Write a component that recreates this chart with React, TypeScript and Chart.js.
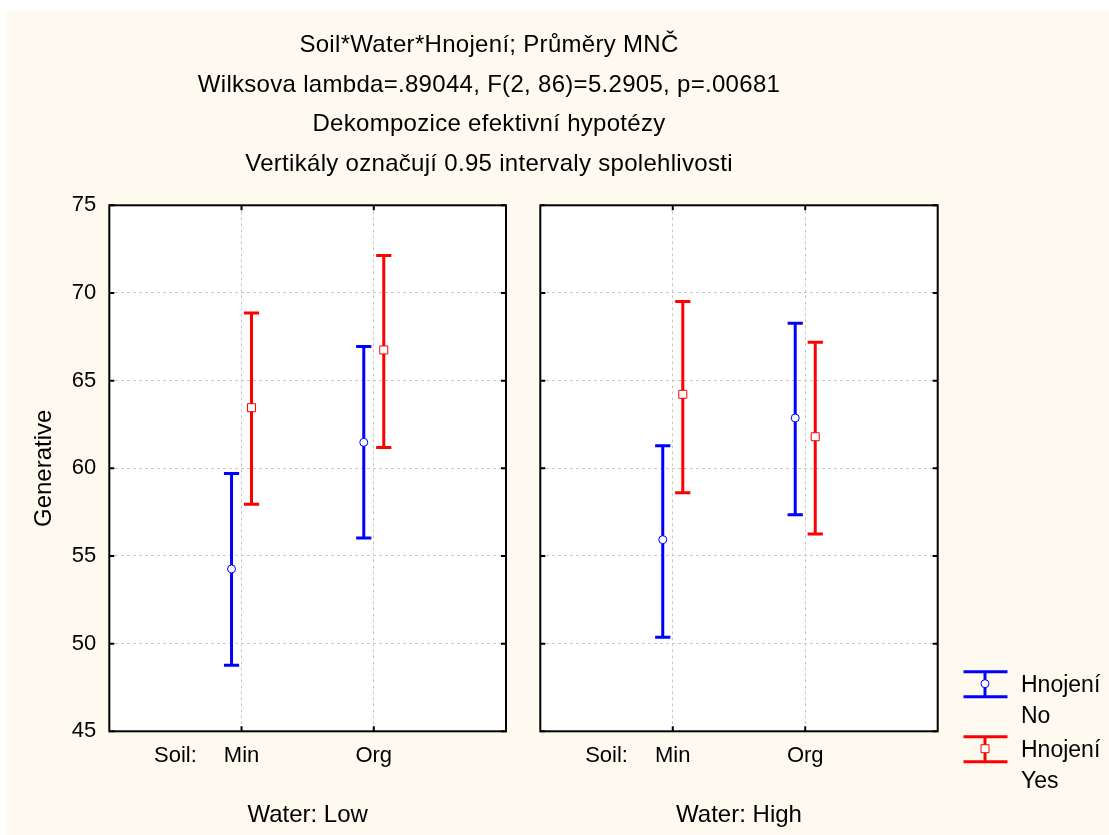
import { useEffect, useRef } from 'react';
import { Chart, registerables } from 'chart.js';

Chart.register(...registerables);

const FONT = "'Liberation Sans', Arial, Helvetica, sans-serif";
const CREAM = '#fefaf0';
const BLUE = '#0000ff';
const RED = '#ff0000';
const GRID = '#c8c8c8';

// Text
const titleLines = [
  'Soil*Water*Hnojení; Průměry MNČ',
  'Wilksova lambda=.89044, F(2, 86)=5.2905, p=.00681',
  'Dekompozice efektivní hypotézy',
  'Vertikály označují 0.95 intervaly spolehlivosti',
];
const yAxisTitle = 'Generative';
const soilAxisLabel = 'Soil:';
const soilLevels = ['Min', 'Org'];
const waterTitles = ['Water: Low', 'Water: High'];
const legendNo = ['Hnojení', 'No'];
const legendYes = ['Hnojení', 'Yes'];
const yMin = 45;
const yMax = 75;
const yStep = 5;

// Water: Low — means and 0.95 confidence limits per soil level (Min, Org)
const lowNoMean = [54.26, 61.48];
const lowNoLower = [48.76, 56.02];
const lowNoUpper = [59.71, 66.94];
const lowYesMean = [63.46, 66.75];
const lowYesLower = [57.95, 61.18];
const lowYesUpper = [68.86, 72.13];

// Water: High
const highNoMean = [55.93, 62.87];
const highNoLower = [50.36, 57.35];
const highNoUpper = [61.29, 68.27];
const highYesMean = [64.22, 61.8];
const highYesLower = [58.61, 56.25];
const highYesUpper = [69.52, 67.19];

// dodge of each group around its category, and half-width of the caps (x units)
const DODGE = 0.0756;
const CAP = 0.0575;

type Pt = { x: number; y: number | null };

function whiskers(lower: number[], upper: number[], shift: number): Pt[] {
  const pts: Pt[] = [];
  lower.forEach((lo, i) => {
    const hi = upper[i];
    const x = i + 1 + shift;
    pts.push({ x, y: lo }, { x, y: hi }, { x, y: null });
    pts.push({ x: x - CAP, y: hi }, { x: x + CAP, y: hi }, { x, y: null });
    pts.push({ x: x - CAP, y: lo }, { x: x + CAP, y: lo }, { x, y: null });
  });
  return pts;
}

function means(values: number[], shift: number): Pt[] {
  return values.map((v, i) => ({ x: i + 1 + shift, y: v }));
}

const panelPlugin = {
  id: 'panelFrame',
  beforeDraw(chart: any) {
    const { ctx, chartArea: a } = chart;
    ctx.save();
    ctx.fillStyle = '#ffffff';
    ctx.fillRect(a.left, a.top, a.right - a.left, a.bottom - a.top);
    ctx.restore();
  },
  afterDatasetsDraw(chart: any) {
    const { ctx, chartArea: a, scales } = chart;
    ctx.save();
    ctx.strokeStyle = '#000';
    ctx.lineWidth = 2;
    ctx.strokeRect(a.left, a.top, a.right - a.left, a.bottom - a.top);
    ctx.beginPath();
    scales.y.ticks.forEach((t: any) => {
      const y = scales.y.getPixelForValue(t.value);
      ctx.moveTo(a.left, y);
      ctx.lineTo(a.left + 5, y);
      ctx.moveTo(a.right, y);
      ctx.lineTo(a.right - 5, y);
    });
    soilLevels.forEach((_, i) => {
      const x = scales.x.getPixelForValue(i + 1);
      ctx.moveTo(x, a.top);
      ctx.lineTo(x, a.top + 5);
      ctx.moveTo(x, a.bottom);
      ctx.lineTo(x, a.bottom - 5);
    });
    ctx.stroke();
    ctx.restore();
  },
};

const headingPlugin = {
  id: 'heading',
  afterDraw(chart: any) {
    const { ctx } = chart;
    ctx.save();
    ctx.fillStyle = '#000';
    ctx.font = `24px ${FONT}`;
    ctx.textAlign = 'center';
    ctx.textBaseline = 'middle';
    (ctx as any).letterSpacing = '0.3px';
    titleLines.forEach((line, i) => ctx.fillText(line, 489, 45.5 + i * 39.65));
    ctx.restore();
  },
};

function drawLegendItem(ctx: CanvasRenderingContext2D, top: number, color: string, square: boolean, lines: string[]) {
  const left = 963.5;
  const right = 1007.5;
  const cx = 985;
  const bottom = top + 25;
  ctx.strokeStyle = color;
  ctx.lineWidth = 3;
  ctx.beginPath();
  ctx.moveTo(left, top);
  ctx.lineTo(right, top);
  ctx.moveTo(left, bottom);
  ctx.lineTo(right, bottom);
  ctx.moveTo(cx, top);
  ctx.lineTo(cx, bottom);
  ctx.stroke();
  ctx.lineWidth = 1;
  ctx.fillStyle = '#fff';
  const my = top + 12;
  ctx.beginPath();
  if (square) ctx.rect(cx - 4, my - 4, 8, 8);
  else ctx.arc(cx, my, 4, 0, Math.PI * 2);
  ctx.fill();
  ctx.stroke();
  ctx.fillStyle = '#000';
  ctx.font = `23px ${FONT}`;
  ctx.textAlign = 'left';
  ctx.textBaseline = 'middle';
  ctx.fillText(lines[0], 1021, top + 13.5);
  ctx.fillText(lines[1], 1021, top + 45);
}

const legendPlugin = {
  id: 'groupLegend',
  afterDraw(chart: any) {
    const { ctx } = chart;
    ctx.save();
    drawLegendItem(ctx, 671.7, BLUE, false, legendNo);
    drawLegendItem(ctx, 736.7, RED, true, legendYes);
    ctx.restore();
  },
};

function panelConfig(p: {
  noMean: number[]; noLower: number[]; noUpper: number[];
  yesMean: number[]; yesLower: number[]; yesUpper: number[];
  water: string; showY: boolean; padLeft: number; padRight: number; yWidth: number; plugins: any[];
}): any {
  return {
    type: 'scatter',
    data: {
      datasets: [
        { data: whiskers(p.noLower, p.noUpper, -DODGE), showLine: true, borderColor: BLUE, borderWidth: 3, pointRadius: 0, order: 2 },
        { data: whiskers(p.yesLower, p.yesUpper, DODGE), showLine: true, borderColor: RED, borderWidth: 3, pointRadius: 0, order: 2 },
        { data: means(p.noMean, -DODGE), pointStyle: 'circle', pointRadius: 4, pointBorderWidth: 1, borderColor: BLUE, backgroundColor: '#fff', order: 1 },
        { data: means(p.yesMean, DODGE), pointStyle: 'rect', pointRadius: 5.66, pointBorderWidth: 1, borderColor: RED, backgroundColor: '#fff', order: 1 },
      ],
    },
    options: {
      responsive: false,
      animation: false,
      events: [],
      layout: { padding: { left: p.padLeft, right: p.padRight, top: 205.3, bottom: 0 } },
      plugins: { legend: { display: false }, tooltip: { enabled: false }, title: { display: false } },
      scales: {
        x: {
          type: 'linear',
          min: 0,
          max: 3,
          afterBuildTicks: (s: any) => {
            s.ticks = [{ value: 0.5 }, ...soilLevels.map((_, i) => ({ value: i + 1 }))];
          },
          afterFit: (s: any) => { s.height = 103.7; },
          ticks: {
            autoSkip: false,
            maxRotation: 0,
            padding: 11,
            color: '#000',
            font: { family: FONT, size: 22 },
            callback: (v: number) => (v === 0.5 ? soilAxisLabel : soilLevels[v - 1]),
          },
          grid: {
            drawTicks: false,
            lineWidth: 1,
            color: (c: any) => (c.tick && c.tick.value === 0.5 ? 'rgba(0,0,0,0)' : GRID),
          },
          border: { display: false, dash: [3, 3] },
          title: { display: true, text: p.water, color: '#000', font: { family: FONT, size: 24 }, padding: { top: 0, bottom: 5.6 } },
        },
        y: {
          type: 'linear',
          min: yMin,
          max: yMax,
          afterFit: (s: any) => { s.width = p.yWidth; },
          ticks: { stepSize: yStep, display: p.showY, padding: 13, color: '#000', font: { family: FONT, size: 22 } },
          grid: { drawTicks: false, lineWidth: 1, color: GRID },
          border: { display: false, dash: [3, 3] },
          title: { display: p.showY, text: yAxisTitle, color: '#000', font: { family: FONT, size: 24 }, padding: { top: 29.6, bottom: 0 } },
        },
      },
    },
    plugins: p.plugins,
  };
}

export default function App() {
  const leftRef = useRef<HTMLCanvasElement>(null);
  const rightRef = useRef<HTMLCanvasElement>(null);

  useEffect(() => {
    const low = new Chart(leftRef.current as HTMLCanvasElement, panelConfig({
      noMean: lowNoMean, noLower: lowNoLower, noUpper: lowNoUpper,
      yesMean: lowYesMean, yesLower: lowYesLower, yesUpper: lowYesUpper,
      water: waterTitles[0], showY: true, padLeft: 0, padRight: 603, yWidth: 109.3,
      plugins: [panelPlugin, headingPlugin],
    }));
    const high = new Chart(rightRef.current as HTMLCanvasElement, panelConfig({
      noMean: highNoMean, noLower: highNoLower, noUpper: highNoUpper,
      yesMean: highYesMean, yesLower: highYesLower, yesUpper: highYesUpper,
      water: waterTitles[1], showY: false, padLeft: 540.3, padRight: 171.3, yWidth: 0,
      plugins: [panelPlugin, legendPlugin],
    }));
    return () => {
      low.destroy();
      high.destroy();
    };
  }, []);

  const layer: any = { position: 'absolute', left: 0, top: 0 };
  return (
    <div style={{ position: 'absolute', left: 0, top: 0, width: 1109, height: 835, background: '#fff', overflow: 'hidden' }}>
      <div style={{ position: 'absolute', left: 6, top: 11, right: 0, bottom: 0, background: CREAM }} />
      <canvas ref={leftRef} width={1109} height={835} style={layer} />
      <canvas ref={rightRef} width={1109} height={835} style={layer} />
    </div>
  );
}
